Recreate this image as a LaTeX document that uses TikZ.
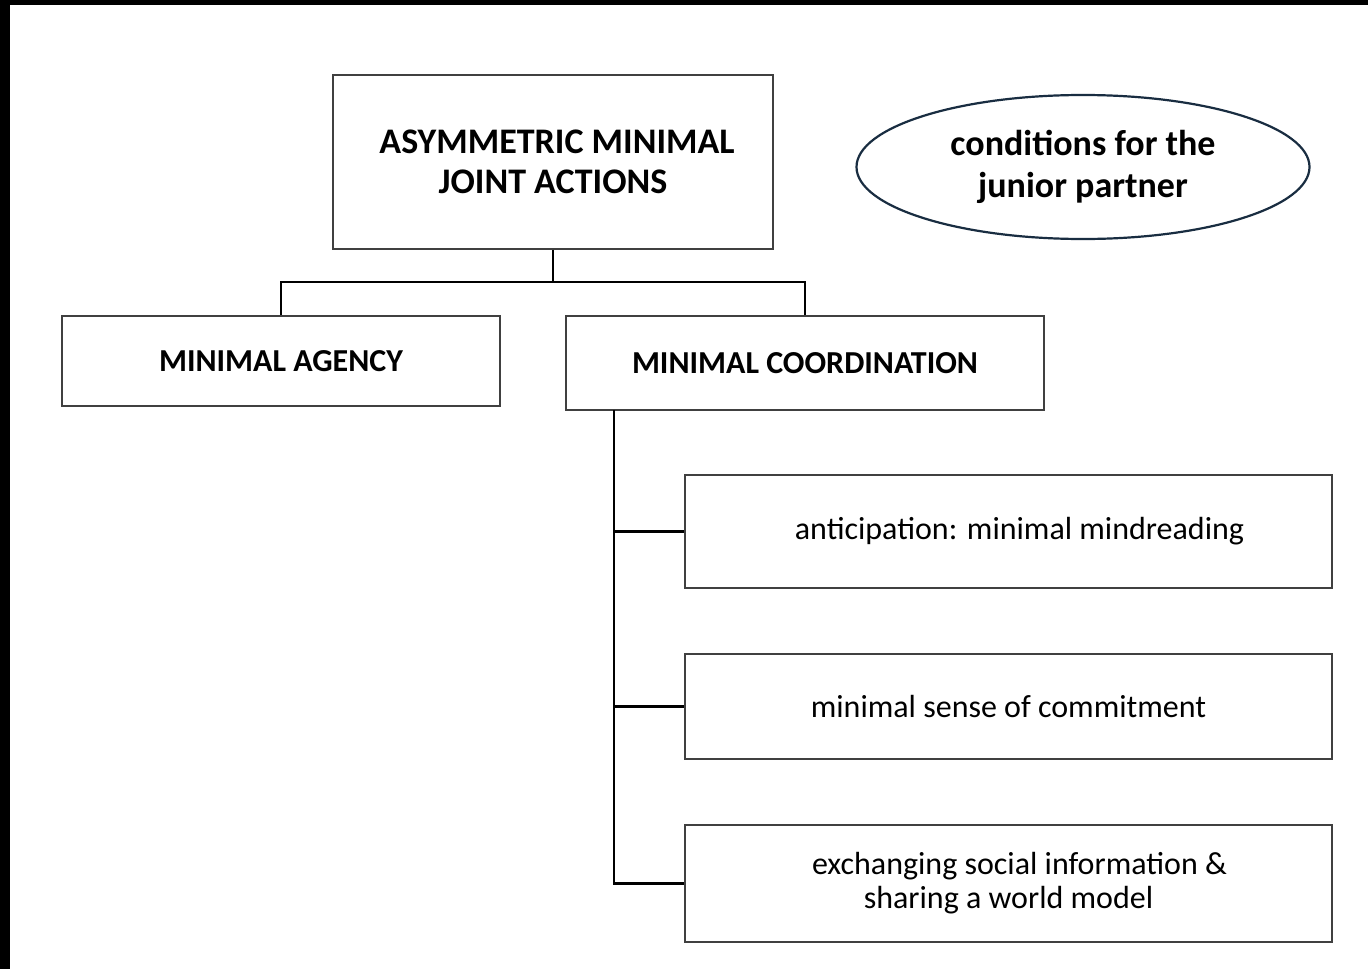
\documentclass[tikz,border=0pt]{standalone}
\usepackage{fontspec}
\setmainfont{Carlito}
\usetikzlibrary{shapes.geometric}
\begin{document}
\begin{tikzpicture}[x=1pt,y=-1pt,
  box/.style={draw=black!75,line width=1.6pt,fill=white,inner sep=0pt,align=center},
  head/.style={box,font=\bfseries\fontsize{36}{40}\selectfont},
  sub/.style={box,font=\bfseries\fontsize{32}{36}\selectfont},
  item/.style={box,font=\fontsize{32}{34}\selectfont},
  oval/.style={ellipse,draw={rgb,255:red,25;green,45;blue,65},line width=2.2pt,inner sep=0pt,align=center,font=\bfseries\fontsize{36}{42}\selectfont},
  link/.style={draw=black,line width=2.6pt}]
\useasboundingbox (0,0) rectangle (1368,969);
\fill[black] (0,0) rectangle (1368,969);
\fill[white] (10,5) rectangle (1368,969);
\node[head,minimum width=440,minimum height=174] (top) at (553,162) {\hspace*{8pt}ASYMMETRIC MINIMAL\\JOINT ACTIONS};
\node[oval,minimum width=453,minimum height=144] (cond) at (1083,167) {conditions for the\\junior partner};
\node[sub,minimum width=438,minimum height=90] (agency) at (281,361) {MINIMAL AGENCY};
\node[sub,minimum width=478,minimum height=94] (coord) at (805,363) {MINIMAL COORDINATION};
\node[item,minimum width=647,minimum height=113] (b1) at (1008.5,531.5) {\hspace*{22pt}anticipation: minimal mindreading};
\node[item,minimum width=647,minimum height=105] (b2) at (1008.5,706.5) {minimal sense of commitment};
\node[item,minimum width=647,minimum height=117] (b3) at (1008.5,883.5) {\hspace*{22pt}exchanging social information \&\\sharing a world model};
\coordinate (bus) at (553,282);
\coordinate (c0) at (614,410);
\draw[link] (top.south) -- (bus);
\draw[link] (bus) -| (agency.north);
\draw[link] (bus) -| (coord.north);
\draw[link] (c0) |- (b3.west);
\draw[link] (c0 |- b1.west) -- (b1.west);
\draw[link] (c0 |- b2.west) -- (b2.west);
\end{tikzpicture}
\end{document}
